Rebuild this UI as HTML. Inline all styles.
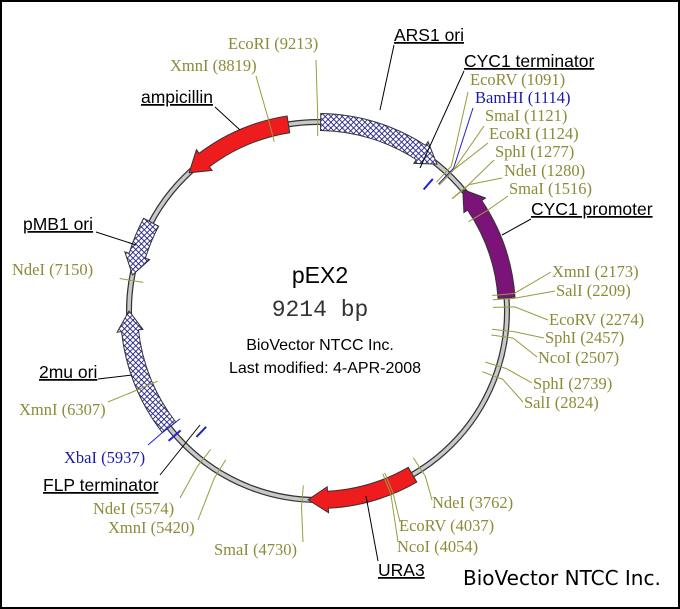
<!DOCTYPE html>
<html><head><meta charset="utf-8"><style>
body{margin:0;background:#fff;width:680px;height:609px;overflow:hidden}
svg{display:block}
.s{font-family:"Liberation Serif",serif;font-size:16.5px;fill:#8b8b38}
.b{fill:#1a1aaa}
.f{font-family:"Liberation Sans",sans-serif;font-size:17.5px;fill:#000}
.c{font-family:"Liberation Sans",sans-serif;font-size:16px;fill:#000}
</style></head><body>
<svg id="g" width="680" height="609" xmlns="http://www.w3.org/2000/svg">
<defs>
<pattern id="h" width="4" height="4" patternUnits="userSpaceOnUse" patternTransform="rotate(45)">
<rect width="4" height="4" fill="#fff"/><path d="M0 0H4M0 0V4" stroke="#1a1a80" stroke-width="1.7"/>
</pattern>
</defs>
<rect x="1" y="1" width="678" height="607" fill="none" stroke="#000" stroke-width="2"/>
<circle cx="318" cy="311" r="189" fill="none" stroke="#333" stroke-width="6"/>
<circle cx="318" cy="311" r="189" fill="none" stroke="#c8c8c8" stroke-width="3.5"/>
<g id="feat"></g>
<g id="sites" stroke-width="1"></g>
<text x="320" y="283" text-anchor="middle" font-family="Liberation Sans,sans-serif" font-size="23">pEX2</text>
<text x="320" y="316" text-anchor="middle" font-family="Liberation Mono,monospace" font-size="23" fill="#333">9214 bp</text>
<text x="320" y="350" text-anchor="middle" class="c">BioVector NTCC Inc.</text>
<text x="325" y="373" text-anchor="middle" class="c">Last modified: 4-APR-2008</text>
<text x="463" y="585" font-family="DejaVu Sans,sans-serif" font-size="20" fill="#000">BioVector NTCC Inc.</text>
<g id="lab"></g>
</svg>
<script>
var cx=318,cy=311,R=189,NS="http://www.w3.org/2000/svg";
function P(a,r){a=a*Math.PI/180;return [cx+r*Math.sin(a),cy-r*Math.cos(a)];}
function el(p,t,at){var e=document.createElementNS(NS,t);for(var k in at)e.setAttribute(k,at[k]);document.getElementById(p).appendChild(e);return e;}
function arrow(a1,a2,head,fill,str){
  var w=8.5,hw=13,hl=6,dir=a2>a1?1:-1,b=a2-dir*hl;
  var p1=P(a1,R+w),p2=P(b,R+w),p3=P(b,R+hw),p4=P(a2,R),p5=P(b,R-hw),p6=P(b,R-w),p7=P(a1,R-w);
  var sw=dir>0?1:0,large=Math.abs(b-a1)>180?1:0;
  var d="M"+p1+" A"+(R+w)+" "+(R+w)+" 0 "+large+" "+sw+" "+p2+" L"+p3+" L"+p4+" L"+p5+" L"+p6+" A"+(R-w)+" "+(R-w)+" 0 "+large+" "+(1-sw)+" "+p7+" Z";
  el("feat","path",{d:d,fill:fill,stroke:str||"#333","stroke-width":1});
}
arrow(0.8,39,1,"url(#h)");
arrow(86,50,1,"#7a1478");
arrow(150,183,1,"#ee1c1c");
arrow(232,270,1,"url(#h)");
arrow(298,281,1,"url(#h)");
arrow(351,317,1,"#ee1c1c");
function tick(a,r1,r2,c){var p=P(a,r1),q=P(a,r2);el("feat","line",{x1:p[0],y1:p[1],x2:q[0],y2:q[1],stroke:c,"stroke-width":2});}
tick(41,R-28,R-14,"#2222cc");
tick(224,R-28,R-14,"#2222cc");
tick(229,R-7,R+9,"#2222cc");
var S=[
[359.9,228,49,"EcoRI (9213)",316,60],
[345.5,170,71,"XmnI (8819)",256,76],
[42.6,470,85,"EcoRV (1091)",468,92],
[43.5,475,103,"BamHI (1114)",473,108,1],
[43.8,485,121,"SmaI (1121)",484,126],
[43.9,489,139,"EcoRI (1124)",488,143],
[50,495,157,"SphI (1277)",494,160],
[50.1,504,176,"NdeI (1280)",502,178],
[59.3,509,194,"SmaI (1516)",508,196],
[84.9,552,277,"XmnI (2173)",551,272],
[86.3,556,296,"SalI (2209)",555,291],
[88.8,549,325,"EcoRV (2274)",548,320],
[96,545,343,"SphI (2457)",544,338],
[97.9,538,363,"NcoI (2507)",537,357],
[107,533,389,"SphI (2739)",532,383],
[110.3,524,408,"SalI (2824)",523,402],
[147,432,508,"NdeI (3762)",432,500],
[157.6,399,531,"EcoRV (4037)",400,522],
[158.3,397,552,"NcoI (4054)",398,542],
[184.8,214,555,"SmaI (4730)",303,542],
[211.8,108,533,"XmnI (5420)",198,520],
[217.8,93,514,"NdeI (5574)",180,498],
[232,64,463,"XbaI (5937)",148,445,1],
[246.4,19,415,"XmnI (6307)",108,402],
[279.3,12,275,"NdeI (7150)",",",0]
];
S.forEach(function(s){
  var c=s[6]?"#2222cc":"#9a9a40";
  var p=P(s[0],R-14),q=P(s[0],R+8);
  var ax=s[4],ay=s[5];
  if(s[3]=="NdeI (7150)"){el("sites","line",{x1:P(s[0],R-12)[0],y1:P(s[0],R-12)[1],x2:P(s[0],R+12)[0],y2:P(s[0],R+12)[1],stroke:c});}
  else el("sites","polyline",{points:p+" "+q+" "+ax+","+ay,fill:"none",stroke:c});
  var t=el("lab","text",{x:s[1],y:s[2],"class":"s"+(s[6]?" b":"")});t.textContent=s[3];
});
var F=[
["ARS1 ori",394,41,[[394,45],[380,110]]],
["CYC1 terminator",464,67,[[464,71],[420,168]]],
["CYC1 promoter",531,215,[[531,219],[502,235]]],
["URA3",378,576,[[378,561],[366,496]]],
["FLP terminator",43,491,[[160,475],[200,425]]],
["2mu ori",39,378,[[98,379],[132,375]]],
["pMB1 ori",23,230,[[96,232],[136,245]]],
["ampicillin",141,103,[[215,107],[240,130]]]
];
F.forEach(function(f){
  var t=el("lab","text",{x:f[1],y:f[2],"class":"f",style:"text-decoration:underline"});t.textContent=f[0];
  var L=f[3];el("lab","line",{x1:L[0][0],y1:L[0][1],x2:L[1][0],y2:L[1][1],stroke:"#000"});
});
</script>
</body></html>
